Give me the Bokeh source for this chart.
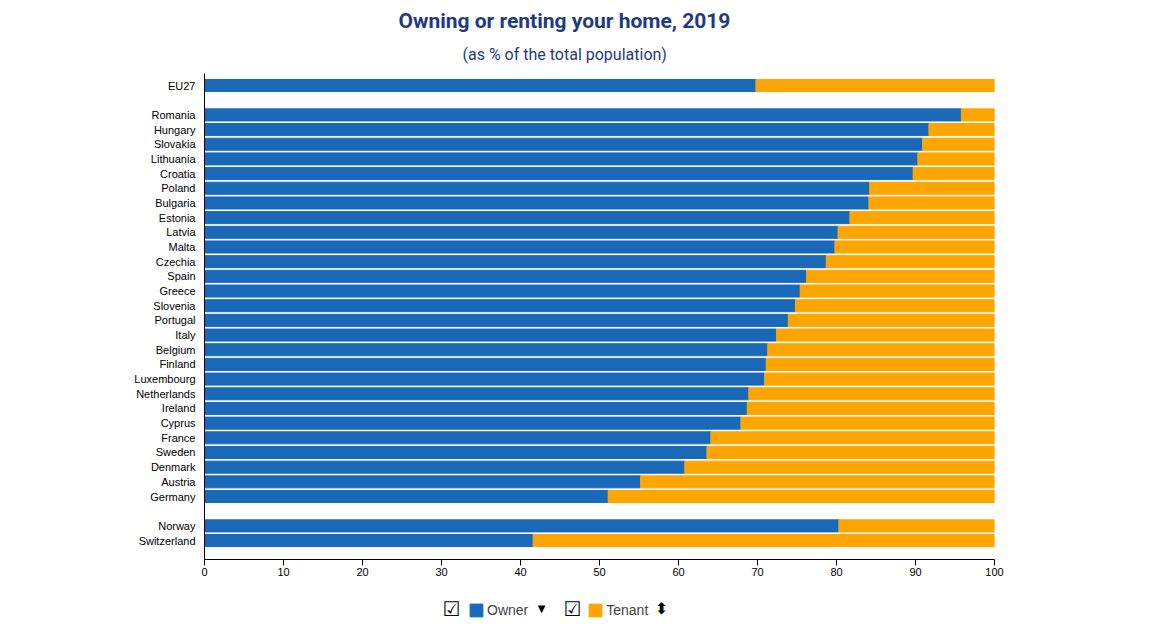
from bokeh.plotting import figure
from bokeh.layouts import column
from bokeh.models import (Range1d, FixedTicker, Label, Legend, LegendItem, ColumnDataSource, Title)
from bokeh.embed import file_html
from bokeh.resources import INLINE

countries = ["EU27", "Romania", "Hungary", "Slovakia", "Lithuania", "Croatia", "Poland",
             "Bulgaria", "Estonia", "Latvia", "Malta", "Czechia", "Spain", "Greece",
             "Slovenia", "Portugal", "Italy", "Belgium", "Finland", "Luxembourg",
             "Netherlands", "Ireland", "Cyprus", "France", "Sweden", "Denmark",
             "Austria", "Germany", "Norway", "Switzerland"]
owner = [69.8, 95.8, 91.7, 90.9, 90.3, 89.7, 84.2, 84.1, 81.7, 80.2, 79.8, 78.7, 76.2,
         75.4, 74.8, 73.9, 72.4, 71.3, 71.1, 70.9, 68.9, 68.7, 67.9, 64.1, 63.6, 60.8,
         55.2, 51.1, 80.3, 41.6]
tenant = [round(100 - v, 1) for v in owner]
# slot positions (gaps after EU27 and after Germany)
positions = [0] + list(range(2, 29)) + [30, 31]

BLUE = "#1a68b8"
ORANGE = "#ffa500"
NAVY = "#1f3a84"

src = ColumnDataSource(dict(y=positions, owner=owner, tenant=tenant,
                            total=[o + t for o, t in zip(owner, tenant)], country=countries))

W, H = 1165, 590
p = figure(width=W, height=H, output_backend="svg", toolbar_location=None,
           x_range=Range1d(0, 100), y_range=Range1d(32.29, -0.82))
p.min_border_left = 204
p.min_border_right = W - 994
p.min_border_top = 73
p.min_border_bottom = H - 559
p.outline_line_color = None
p.xgrid.visible = False
p.ygrid.visible = False

# main title (outermost), subtitle added after so it sits next to the plot
p.title.text = "Owning or renting your home, 2019"
p.title.align = "left"
p.title.offset = 194
p.title.text_font = "Roboto"
p.title.text_font_style = "bold"
p.title.text_font_size = "21px"
p.title.text_color = NAVY
p.title.standoff = 0
p.add_layout(Title(text="(as % of the total population)", align="left", offset=258,
                   text_font="Roboto", text_font_style="normal", text_font_size="16px",
                   text_color=NAVY, standoff=20), "above")

r_owner = p.hbar(y="y", left=0, right="owner", height=0.82, color=BLUE, source=src)
r_tenant = p.hbar(y="y", left="owner", right="total", height=0.82, color=ORANGE, source=src)

yax = p.yaxis[0]
yax.ticker = FixedTicker(ticks=positions)
yax.major_label_overrides = {pos: c for pos, c in zip(positions, countries)}
yax.major_tick_line_color = None
yax.major_tick_out = 0
yax.major_tick_in = 0
yax.minor_tick_line_color = None
yax.major_label_standoff = 9
yax.major_label_text_font = "Liberation Sans"
yax.major_label_text_font_size = "11px"
yax.major_label_text_color = "#000000"
yax.axis_line_color = "#000000"

xax = p.xaxis[0]
xax.ticker = FixedTicker(ticks=list(range(0, 101, 10)))
xax.major_tick_in = 0
xax.major_tick_out = 6
xax.minor_tick_line_color = None
xax.major_label_standoff = 2
xax.major_label_text_font = "Liberation Sans"
xax.major_label_text_font_size = "11px"
xax.major_label_text_color = "#000000"
xax.axis_line_color = "#000000"
xax.major_tick_line_color = "#000000"

# legend strip below the chart (its frame is aligned with the chart's frame);
# its coordinates are page pixels shifted by 1000 vertically
LH = 40
Y0 = 1000
lf = figure(width=W, height=LH, output_backend="svg", toolbar_location=None,
            x_range=Range1d(204, 994), y_range=Range1d(Y0 + LH, Y0), min_border=0)
lf.axis.visible = False
lf.grid.visible = False
lf.outline_line_color = None
# hidden legend proxies sharing the data source
l_owner = lf.hbar(y="y", left=0, right="owner", height=0.82, color=BLUE, source=src,
                  visible=False)
l_tenant = lf.hbar(y="y", left="owner", right="total", height=0.82, color=ORANGE, source=src,
                   visible=False)
legend = Legend(items=[LegendItem(label="Owner", renderers=[l_owner]),
                       LegendItem(label="Tenant", renderers=[l_tenant])],
                orientation="horizontal", location=(468 - 204, 12), border_line_color=None,
                background_fill_alpha=0, inactive_fill_alpha=0,
                label_text_font="Liberation Sans", label_text_font_size="14px",
                glyph_width=16, glyph_height=16, label_standoff=3, spacing=59,
                padding=0, margin=0)
lf.add_layout(legend, "center")
for cx, txt, fs in [(451, "\u2611", "20px"), (572, "\u2611", "20px"),
                    (541, "\u25BC", "10px"), (661, "\u2B0D", "16px")]:
    lf.add_layout(Label(x=cx, y=Y0 + 18, text=txt, text_align="center", text_baseline="middle",
                        text_font="DejaVu Sans", text_font_size=fs, text_color="#000000"))

layout = column(p, lf, spacing=0)
out = open("out.html", "w")
out.write(file_html(layout, INLINE))
out.close()
